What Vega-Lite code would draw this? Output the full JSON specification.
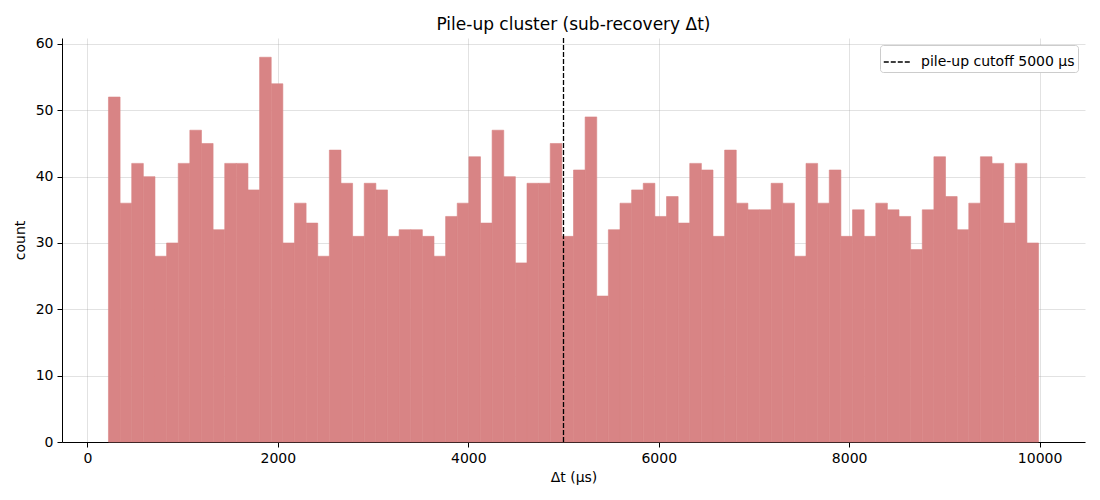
{
  "$schema": "https://vega.github.io/schema/vega-lite/v6.json",
  "autosize": "none",
  "width": 1023,
  "height": 404,
  "padding": {"left": 62, "top": 38, "right": 15, "bottom": 58},
  "background": "white",
  "title": {"text": "Pile-up cluster (sub-recovery Δt)", "fontSize": 17, "font": "DejaVu Sans", "fontWeight": "normal", "color": "black", "offset": 3},
  "config": {
    "font": "DejaVu Sans",
    "view": {"stroke": null},
    "axis": {
      "labelFont": "DejaVu Sans", "labelFontSize": 14, "labelColor": "black",
      "titleFont": "DejaVu Sans", "titleFontSize": 14, "titleFontWeight": "normal", "titleColor": "black",
      "domainColor": "black", "domainWidth": 1, "tickColor": "black", "tickSize": 5, "tickWidth": 1,
      "gridColor": "#a0a0a0", "gridOpacity": 0.3, "gridWidth": 1, "labelPadding": 4, "zindex": 1
    },
    "legend": {"labelFont": "DejaVu Sans", "labelFontSize": 14, "labelColor": "black"}
  },
  "datasets": {
    "hist": [
      {"bin_start": 221.0, "bin_end": 343.1, "count": 52},
      {"bin_start": 343.1, "bin_end": 465.2, "count": 36},
      {"bin_start": 465.2, "bin_end": 587.3, "count": 42},
      {"bin_start": 587.3, "bin_end": 709.4, "count": 40},
      {"bin_start": 709.4, "bin_end": 831.5, "count": 28},
      {"bin_start": 831.5, "bin_end": 953.6, "count": 30},
      {"bin_start": 953.6, "bin_end": 1075.7, "count": 42},
      {"bin_start": 1075.7, "bin_end": 1197.8, "count": 47},
      {"bin_start": 1197.8, "bin_end": 1319.9, "count": 45},
      {"bin_start": 1319.9, "bin_end": 1442.0, "count": 32},
      {"bin_start": 1442.0, "bin_end": 1564.1, "count": 42},
      {"bin_start": 1564.1, "bin_end": 1686.2, "count": 42},
      {"bin_start": 1686.2, "bin_end": 1808.3, "count": 38},
      {"bin_start": 1808.3, "bin_end": 1930.4, "count": 58},
      {"bin_start": 1930.4, "bin_end": 2052.5, "count": 54},
      {"bin_start": 2052.5, "bin_end": 2174.6, "count": 30},
      {"bin_start": 2174.6, "bin_end": 2296.7, "count": 36},
      {"bin_start": 2296.7, "bin_end": 2418.8, "count": 33},
      {"bin_start": 2418.8, "bin_end": 2540.9, "count": 28},
      {"bin_start": 2540.9, "bin_end": 2663.0, "count": 44},
      {"bin_start": 2663.0, "bin_end": 2785.1, "count": 39},
      {"bin_start": 2785.1, "bin_end": 2907.2, "count": 31},
      {"bin_start": 2907.2, "bin_end": 3029.3, "count": 39},
      {"bin_start": 3029.3, "bin_end": 3151.4, "count": 38},
      {"bin_start": 3151.4, "bin_end": 3273.5, "count": 31},
      {"bin_start": 3273.5, "bin_end": 3395.6, "count": 32},
      {"bin_start": 3395.6, "bin_end": 3517.7, "count": 32},
      {"bin_start": 3517.7, "bin_end": 3639.8, "count": 31},
      {"bin_start": 3639.8, "bin_end": 3761.9, "count": 28},
      {"bin_start": 3761.9, "bin_end": 3884.0, "count": 34},
      {"bin_start": 3884.0, "bin_end": 4006.1, "count": 36},
      {"bin_start": 4006.1, "bin_end": 4128.2, "count": 43},
      {"bin_start": 4128.2, "bin_end": 4250.3, "count": 33},
      {"bin_start": 4250.3, "bin_end": 4372.4, "count": 47},
      {"bin_start": 4372.4, "bin_end": 4494.5, "count": 40},
      {"bin_start": 4494.5, "bin_end": 4616.6, "count": 27},
      {"bin_start": 4616.6, "bin_end": 4738.7, "count": 39},
      {"bin_start": 4738.7, "bin_end": 4860.8, "count": 39},
      {"bin_start": 4860.8, "bin_end": 4982.9, "count": 45},
      {"bin_start": 4982.9, "bin_end": 5105.0, "count": 31},
      {"bin_start": 5105.0, "bin_end": 5227.1, "count": 41},
      {"bin_start": 5227.1, "bin_end": 5349.2, "count": 49},
      {"bin_start": 5349.2, "bin_end": 5471.3, "count": 22},
      {"bin_start": 5471.3, "bin_end": 5593.4, "count": 32},
      {"bin_start": 5593.4, "bin_end": 5715.5, "count": 36},
      {"bin_start": 5715.5, "bin_end": 5837.6, "count": 38},
      {"bin_start": 5837.6, "bin_end": 5959.7, "count": 39},
      {"bin_start": 5959.7, "bin_end": 6081.8, "count": 34},
      {"bin_start": 6081.8, "bin_end": 6203.9, "count": 37},
      {"bin_start": 6203.9, "bin_end": 6326.0, "count": 33},
      {"bin_start": 6326.0, "bin_end": 6448.1, "count": 42},
      {"bin_start": 6448.1, "bin_end": 6570.2, "count": 41},
      {"bin_start": 6570.2, "bin_end": 6692.3, "count": 31},
      {"bin_start": 6692.3, "bin_end": 6814.4, "count": 44},
      {"bin_start": 6814.4, "bin_end": 6936.5, "count": 36},
      {"bin_start": 6936.5, "bin_end": 7058.6, "count": 35},
      {"bin_start": 7058.6, "bin_end": 7180.7, "count": 35},
      {"bin_start": 7180.7, "bin_end": 7302.8, "count": 39},
      {"bin_start": 7302.8, "bin_end": 7424.9, "count": 36},
      {"bin_start": 7424.9, "bin_end": 7547.0, "count": 28},
      {"bin_start": 7547.0, "bin_end": 7669.1, "count": 42},
      {"bin_start": 7669.1, "bin_end": 7791.2, "count": 36},
      {"bin_start": 7791.2, "bin_end": 7913.3, "count": 41},
      {"bin_start": 7913.3, "bin_end": 8035.4, "count": 31},
      {"bin_start": 8035.4, "bin_end": 8157.5, "count": 35},
      {"bin_start": 8157.5, "bin_end": 8279.6, "count": 31},
      {"bin_start": 8279.6, "bin_end": 8401.7, "count": 36},
      {"bin_start": 8401.7, "bin_end": 8523.8, "count": 35},
      {"bin_start": 8523.8, "bin_end": 8645.9, "count": 34},
      {"bin_start": 8645.9, "bin_end": 8768.0, "count": 29},
      {"bin_start": 8768.0, "bin_end": 8890.1, "count": 35},
      {"bin_start": 8890.1, "bin_end": 9012.2, "count": 43},
      {"bin_start": 9012.2, "bin_end": 9134.3, "count": 37},
      {"bin_start": 9134.3, "bin_end": 9256.4, "count": 32},
      {"bin_start": 9256.4, "bin_end": 9378.5, "count": 36},
      {"bin_start": 9378.5, "bin_end": 9500.6, "count": 43},
      {"bin_start": 9500.6, "bin_end": 9622.7, "count": 42},
      {"bin_start": 9622.7, "bin_end": 9744.8, "count": 33},
      {"bin_start": 9744.8, "bin_end": 9866.9, "count": 42},
      {"bin_start": 9866.9, "bin_end": 9989.0, "count": 30}
    ],
    "cutoff": [
      {"dt": 5000, "label": "pile-up cutoff 5000 μs"}
    ]
  },
  "layer": [
    {
      "data": {"name": "hist"},
      "mark": {"type": "bar", "orient": "vertical", "color": "#d88485", "stroke": "#d88485", "strokeWidth": 0.6},
      "encoding": {
        "x": {
          "field": "bin_start", "type": "quantitative", "title": "Δt (μs)",
          "scale": {"domain": [-267, 10477], "nice": false, "zero": false, "padding": 0},
          "axis": {"values": [0, 2000, 4000, 6000, 8000, 10000], "format": "d", "titlePadding": 5}
        },
        "x2": {"field": "bin_end"},
        "y": {
          "field": "count", "type": "quantitative", "title": "count",
          "scale": {"domain": [0, 60.9], "nice": false, "zero": true, "padding": 0},
          "axis": {"values": [0, 10, 20, 30, 40, 50, 60], "titlePadding": 8}
        },
        "y2": {"datum": 0}
      }
    },
    {
      "data": {"name": "cutoff"},
      "mark": {"type": "rule", "strokeDash": [5, 2], "strokeWidth": 1.3},
      "encoding": {
        "x": {"field": "dt", "type": "quantitative"},
        "color": {
          "field": "label", "type": "nominal",
          "scale": {"range": ["black"]},
          "legend": {
            "title": null, "orient": "top-right", "offset": 7,
            "symbolType": "stroke", "symbolSize": 700, "symbolStrokeWidth": 1.3, "symbolDash": [5, 2],
            "fillColor": "white", "strokeColor": "#cccccc", "cornerRadius": 3, "padding": 3,
            "labelOffset": 10, "zindex": 2
          }
        }
      }
    }
  ]
}
